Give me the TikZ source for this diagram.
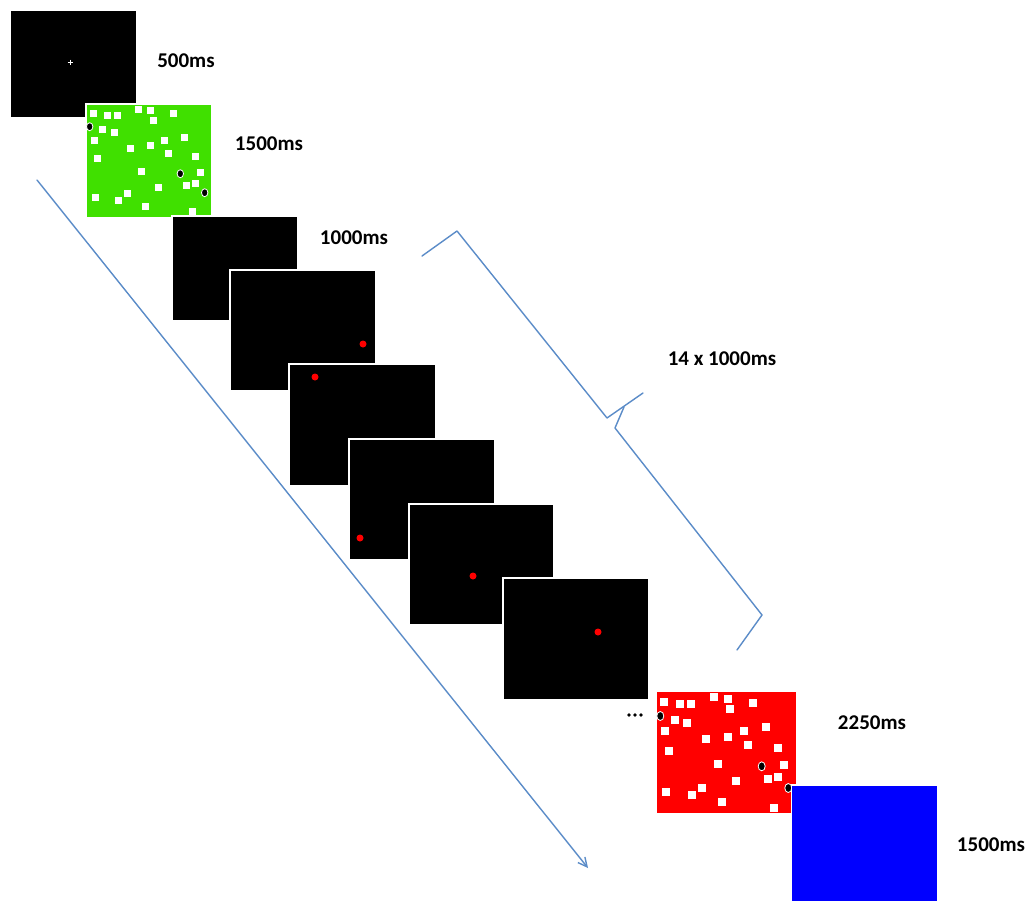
\documentclass[tikz,border=0pt]{standalone}
\usepackage{fontspec}
\setmainfont{Carlito}
\usetikzlibrary{arrows.meta}
\definecolor{scrgreen}{HTML}{40E000}
\definecolor{scrred}{HTML}{FF0000}
\definecolor{scrblue}{HTML}{0000FF}
\definecolor{arrowblue}{HTML}{5B8CC8}
\begin{document}
\begin{tikzpicture}[x=1pt,y=-1pt,
  panel/.style={rectangle, draw=white, line width=1.2pt, inner sep=0pt, outer sep=0pt},
  lab/.style={font=\bfseries\fontsize{21}{21}\selectfont, inner sep=0pt, anchor=center},
  sq/.style={fill=white},
  blackdot/.style={fill=black, draw=white, line width=0.8pt},
  reddot/.style={fill=red},
  timeline/.style={draw=arrowblue, line width=1.4pt, line cap=round, line join=round},
]
\useasboundingbox (0,0) rectangle (1033,902);
\fill[white] (0,0) rectangle (1033,902);

% timeline arrow
\coordinate (a0) at (37,180);
\coordinate (a1) at (588,868);
\draw[timeline, -{Straight Barb[length=9pt,width=9pt]}] (a0) -- (a1);

% panel 1: fixation
\node[panel, fill=black, minimum width=127pt, minimum height=108pt] (p1) at (73.5,64) {};
\draw[white, line width=0.8pt] (67.5,62) -- (72.5,62) (70,59.5) -- (70,64.5);

% panel 2: green
\node[panel, fill=scrgreen, minimum width=126pt, minimum height=114pt] (p2) at (149,161) {};
\foreach \x/\y in {93.3/113.3,107.7/115,117.3/115.7,138.3/109,150.7/110.3,153/120.3,173/113.7,102.7/129.7,114.3/132.7,94/140,130.7/148.3,150.7/145.7,164.7/140.3,184.3/137,168/153.7,195.7/156.3,97/158.3,141/171,200.7/172.3,186.7/185,195/183.3,158.3/187.3,127/193.7,95.3/197.3,118.3/200.7,145.3/206.7,192/211.7}
  \fill[sq] (\x-3.5,\y-3.5) rectangle ++(7,7);
\foreach \x/\y in {89.7/126.7,180.3/173.7,204.7/192.7}
  \filldraw[blackdot] (\x,\y) ellipse (3.2pt and 4pt);

% panel 3
\node[panel, fill=black, minimum width=126pt, minimum height=105pt] (p3) at (235,268.5) {};
% panel 4
\node[panel, fill=black, minimum width=146pt, minimum height=121pt] (p4) at (303,330.5) {};
\fill[reddot] (363,344) circle (3.5pt);
% panel 5
\node[panel, fill=black, minimum width=147pt, minimum height=122pt] (p5) at (362.5,425) {};
\fill[reddot] (315,377) circle (3.5pt);
% panel 6
\node[panel, fill=black, minimum width=146pt, minimum height=121pt] (p6) at (422,499.5) {};
\fill[reddot] (360,538) circle (3.5pt);
% panel 7
\node[panel, fill=black, minimum width=145pt, minimum height=121pt] (p7) at (481.5,564.5) {};
\fill[reddot] (473,576) circle (3.5pt);
% panel 8
\node[panel, fill=black, minimum width=146pt, minimum height=122pt] (p8) at (576,639) {};
\fill[reddot] (598,632) circle (3.5pt);

% dots
\foreach \x in {629,635,641} \fill[black] (\x,715) circle (1.8pt);

% panel 9: red
\node[panel, fill=scrred, minimum width=141pt, minimum height=123pt] (p9) at (726.5,752.5) {};
\foreach \x/\y in {663.7/702.3,680/703.7,691/704.3,714.3/697.3,728/698.7,730.3/709,753/702.7,674.7/719.7,687.3/722.7,664.7/730.7,705.7/739.3,728/737,743.7/730.7,765.7/727.3,748/745.3,778.3/748,668.7/750.7,717.7/763.7,784.3/765.3,768/779.3,778/777,736.3/781.3,701.7/788.3,666.3/791.7,691.7/795.3,722/802.3,774/807.7}
  \fill[sq] (\x-4,\y-4) rectangle ++(8,8);
\foreach \x/\y in {660.3/716,761.7/766.3,788.3/788}
  \filldraw[blackdot] (\x,\y) ellipse (3.5pt and 4.5pt);

% panel 10: blue
\node[panel, fill=scrblue, minimum width=146pt, minimum height=117pt] (p10) at (864.5,843.5) {};

% brace
\coordinate (b0) at (422,256);
\coordinate (b1) at (457,231);
\coordinate (b2) at (607,418);
\coordinate (b3) at (643,393);
\coordinate (b4) at (624,407);
\coordinate (b5) at (615,428);
\coordinate (b6) at (762,615);
\coordinate (b7) at (737,650);
\draw[timeline] (b0) -- (b1) -- (b2) -- (b3);
\draw[timeline] (b4) -- (b5) -- (b6) -- (b7);

% labels
\node[lab] (t1) at (186,61) {500ms};
\node[lab] (t2) at (269,144) {1500ms};
\node[lab] (t3) at (354,238) {1000ms};
\node[lab] (t4) at (722,359) {14 x 1000ms};
\node[lab] (t5) at (872,723) {2250ms};
\node[lab] (t6) at (991,845) {1500ms};
\end{tikzpicture}
\end{document}
